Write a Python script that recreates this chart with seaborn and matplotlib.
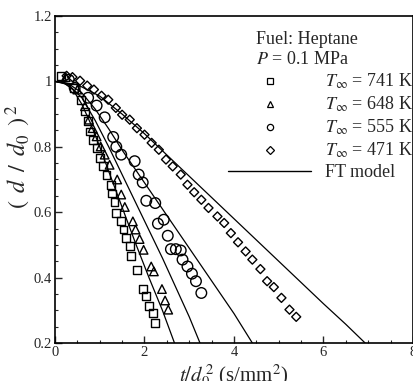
import numpy as np
import pandas as pd
import matplotlib
matplotlib.use("Agg")
import matplotlib.pyplot as plt
from matplotlib.lines import Line2D
from matplotlib.ticker import MultipleLocator, FuncFormatter
import seaborn as sns

# Measured droplet histories (t/d0^2 in s/mm^2, (d/d0)^2)
t_741 = [0.13, 0.42, 0.59, 0.67, 0.74, 0.78, 0.85, 0.93, 1.00, 1.07, 1.15, 1.26, 1.28,
         1.33, 1.37, 1.48, 1.53, 1.59, 1.67, 1.70, 1.83, 1.96, 2.04, 2.11, 2.19, 2.24]
d2_741 = [1.017, 0.98, 0.944, 0.908, 0.878, 0.847, 0.822, 0.796, 0.766, 0.74, 0.715, 0.684, 0.657,
          0.63, 0.598, 0.572, 0.547, 0.521, 0.496, 0.467, 0.422, 0.365, 0.343, 0.314, 0.292, 0.261]

t_648 = [0.24, 0.50, 0.67, 0.76, 0.84, 0.93, 1.02, 1.11, 1.22, 1.39, 1.48, 1.56,
         1.74, 1.80, 1.89, 1.98, 2.15, 2.21, 2.39, 2.46, 2.53]
d2_648 = [1.013, 0.975, 0.924, 0.883, 0.857, 0.832, 0.801, 0.776, 0.745, 0.70, 0.654, 0.616,
          0.572, 0.547, 0.518, 0.485, 0.434, 0.419, 0.365, 0.33, 0.302]

t_555 = [0.31, 0.44, 0.74, 0.93, 1.11, 1.30, 1.37, 1.48, 1.78, 1.87, 1.96, 2.04, 2.24,
         2.30, 2.43, 2.52, 2.59, 2.70, 2.81, 2.85, 2.96, 3.06, 3.15, 3.27]
d2_555 = [1.005, 0.98, 0.95, 0.926, 0.89, 0.83, 0.80, 0.776, 0.756, 0.715, 0.691, 0.635, 0.628,
          0.565, 0.577, 0.528, 0.487, 0.487, 0.483, 0.455, 0.434, 0.412, 0.389, 0.353]

t_471 = [0.26, 0.39, 0.56, 0.72, 0.87, 1.04, 1.19, 1.36, 1.50, 1.67, 1.83, 2.00, 2.16, 2.32,
         2.48, 2.63, 2.81, 2.96, 3.11, 3.27, 3.43, 3.63, 3.78, 3.93, 4.09, 4.26, 4.41, 4.59,
         4.74, 4.89, 5.06, 5.24, 5.39]
d2_471 = [1.017, 1.013, 1.002, 0.987, 0.975, 0.956, 0.944, 0.919, 0.898, 0.883, 0.857, 0.837,
          0.812, 0.791, 0.761, 0.740, 0.715, 0.684, 0.661, 0.638, 0.613, 0.587, 0.567, 0.536,
          0.508, 0.480, 0.455, 0.426, 0.389, 0.371, 0.338, 0.302, 0.280]

# FT model predictions
ft_t_741 = [0, 0.2, 0.4, 0.6, 0.8, 1.0, 1.2, 1.5, 1.8, 2.1, 2.4, 2.67]
ft_d2_741 = [1.0, 0.995, 0.975, 0.93, 0.87, 0.80, 0.725, 0.615, 0.505, 0.40, 0.30, 0.2]
ft_t_648 = [0, 0.3, 0.6, 0.9, 1.2, 1.5, 1.8, 2.1, 2.4, 2.7, 3.0, 3.24]
ft_d2_648 = [1.0, 0.99, 0.95, 0.88, 0.80, 0.715, 0.63, 0.545, 0.46, 0.37, 0.28, 0.2]
ft_t_555 = [0, 0.3, 0.6, 0.9, 1.2, 1.5, 2.0, 2.5, 3.0, 3.5, 4.0, 4.41]
ft_d2_555 = [1.0, 0.993, 0.965, 0.915, 0.855, 0.79, 0.69, 0.59, 0.49, 0.39, 0.29, 0.2]
ft_t_471 = [0, 0.5, 1.0, 1.5, 2.0, 2.5, 3.0, 3.5, 4.0, 4.5, 5.0, 5.5, 6.0, 6.5, 6.93]
ft_d2_471 = [1.0, 0.99, 0.955, 0.90, 0.84, 0.775, 0.71, 0.645, 0.58, 0.515, 0.45, 0.385,
             0.32, 0.257, 0.2]

temps = ["741", "648", "555", "471"]
markers = {"741": "s", "648": "^", "555": "o", "471": "D"}
msizes = {"741": 32, "648": 38, "555": 58, "471": 21}

exp = pd.concat([
    pd.DataFrame({"t": t_741, "d2": d2_741, "T": "741"}),
    pd.DataFrame({"t": t_648, "d2": d2_648, "T": "648"}),
    pd.DataFrame({"t": t_555, "d2": d2_555, "T": "555"}),
    pd.DataFrame({"t": t_471, "d2": d2_471, "T": "471"}),
])
model = pd.concat([
    pd.DataFrame({"t": ft_t_741, "d2": ft_d2_741, "T": "741"}),
    pd.DataFrame({"t": ft_t_648, "d2": ft_d2_648, "T": "648"}),
    pd.DataFrame({"t": ft_t_555, "d2": ft_d2_555, "T": "555"}),
    pd.DataFrame({"t": ft_t_471, "d2": ft_d2_471, "T": "471"}),
])

sns.set_style("ticks")
plt.rcParams["font.family"] = ["Liberation Serif", "DejaVu Serif"]
plt.rcParams["mathtext.fontset"] = "stix"

fig = plt.figure(figsize=(4.14, 3.81), dpi=100)
ax = fig.add_axes([55 / 414, 38 / 381, 358 / 414, 327 / 381])

for T in temps:
    sub = model[model["T"] == T]
    sns.lineplot(data=sub, x="t", y="d2", ax=ax, color="black", lw=0.9,
                 sort=False, estimator=None, legend=False)
for T in temps:
    sub = exp[exp["T"] == T]
    sns.scatterplot(data=sub, x="t", y="d2", ax=ax, marker=markers[T], s=msizes[T],
                    facecolor="none", edgecolor="black", linewidth=1.0, legend=False,
                    zorder=3)

ax.set_xlim(0, 8)
ax.set_ylim(0.2, 1.2)
ax.xaxis.set_major_locator(MultipleLocator(2))
ax.xaxis.set_minor_locator(MultipleLocator(0.5))
ax.yaxis.set_major_locator(MultipleLocator(0.2))
ax.yaxis.set_minor_locator(MultipleLocator(0.05))
ax.yaxis.set_major_formatter(FuncFormatter(lambda v, p: f"{v:g}"))
ax.xaxis.set_major_formatter(FuncFormatter(lambda v, p: f"{v:g}"))
ax.tick_params(which="major", direction="in", length=5, width=1.0, labelsize=10.5, pad=2,
               top=False, right=False)
ax.tick_params(which="minor", direction="in", length=2.5, width=0.8, top=False, right=False)
for s in ax.spines.values():
    s.set_linewidth(1.2)
    s.set_color("black")

ax.set_xlabel(r"$t/d_0^{\,2}$ (s/mm$^2$)", fontsize=15)
ax.set_ylabel(r"$(\;\:d\;\:/\;\:d_0\;\:)^{\,2}$", fontsize=17.5)
ax.xaxis.set_label_coords(0.5, -0.058)
ax.yaxis.set_label_coords(-0.062, 0.57)

# Legend header and entries
ax.text((256 - 55) / 358, (343 - 40) / 327, "Fuel: Heptane", transform=ax.transAxes,
        fontsize=13, ha="left", va="center")
ax.text((256 - 55) / 358, (343 - 60) / 327, r"$P$ = 0.1 MPa", transform=ax.transAxes,
        fontsize=13, ha="left", va="center")

handles = [Line2D([], [], ls="none", marker=markers[T], ms=4.5 if T != "471" else 3.6,
                  mfc="none", mec="black", mew=0.9) for T in temps]
handles.append(Line2D([], [], color="black", lw=1.0))
labels = [rf"$T_\infty$ = {T} K" for T in temps] + ["FT model"]
ax.legend(handles, labels, loc="upper left", bbox_to_anchor=((228 - 55) / 358, (343 - 72) / 327),
          frameon=False, fontsize=13, handlelength=4.6, handletextpad=0.8, labelspacing=0.2,
          borderpad=0, borderaxespad=0)

fig.savefig("out.png", dpi=100)
